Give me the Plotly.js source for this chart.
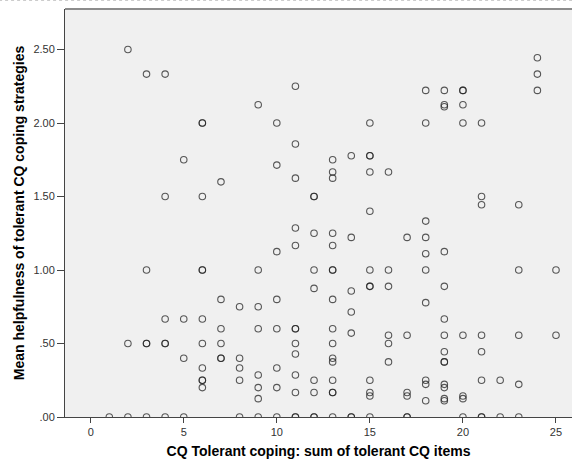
<!DOCTYPE html>
<html>
<head>
<meta charset="utf-8">
<script src="https://cdn.plot.ly/plotly-3.0.1.min.js"></script>
<style>
html,body{margin:0;padding:0;background:#fff;}
#chart{width:572px;height:461px;}
</style>
</head>
<body>
<div id="chart"></div>
<script>
// CQ Tolerant coping sum (x) and mean helpfulness (y), one entry per respondent
const tolerantSum = [
  1,
  2,2,2,
  3,3,3,3,3,
  4,4,4,4,4,4,
  5,5,5,5,
  6,6,6,6,6,6,6,6,6,6,6,
  7,7,7,7,7,7,
  8,8,8,8,8,
  9,9,9,9,9,9,9,9,
  10,10,10,10,10,10,10,10,
  11,11,11,11,11,11,11,11,11,11,11,11,11,
  12,12,12,12,12,12,12,12,12,
  13,13,13,13,13,13,13,13,13,13,13,13,13,13,13,13,
  14,14,14,14,14,14,14,
  15,15,15,15,15,15,15,15,15,15,15,15,
  16,16,16,16,16,16,
  17,17,17,17,17,17,
  18,18,18,18,18,18,18,18,18,18,
  19,19,19,19,19,19,19,19,19,19,19,19,19,19,
  20,20,20,20,20,20,20,20,
  21,21,21,21,21,21,21,21,
  22,22,
  23,23,23,23,23,
  24,24,24,
  25,25
];
const meanHelpfulness = [
  0,
  2.5,0.5,0,
  2.333,1.0,0.5,0.5,0,
  2.333,1.5,0.667,0.5,0.5,0,
  1.75,0.667,0.4,0,
  2.0,2.0,1.5,1.0,1.0,0.667,0.5,0.333,0.25,0.25,0.2,
  1.6,0.8,0.6,0.5,0.4,0.4,
  0.75,0.4,0.333,0.25,0,
  2.125,1.0,0.75,0.6,0.286,0.2,0.125,0,
  2.0,1.714,1.125,0.8,0.6,0.333,0.2,0,
  2.25,1.857,1.625,1.286,1.167,0.6,0.6,0.5,0.429,0.286,0.167,0,0,
  1.5,1.5,1.25,1.0,0.875,0.25,0.167,0,0,
  1.75,1.667,1.625,1.25,1.167,1.0,1.0,0.8,0.6,0.5,0.4,0.375,0.25,0.167,0.167,0,
  1.778,1.222,0.857,0.714,0.571,0,0,
  2.0,1.778,1.778,1.667,1.4,1.0,0.889,0.889,0.25,0.167,0.143,0,
  1.667,1.0,0.889,0.556,0.5,0.375,
  1.222,0.556,0.167,0.143,0,0,
  2.222,2.0,1.333,1.222,1.111,1.0,0.778,0.25,0.222,0.111,
  2.222,2.125,2.111,1.125,0.889,0.667,0.556,0.444,0.375,0.375,0.222,0.2,0.125,0.111,
  2.222,2.222,2.125,2.0,0.556,0.143,0.125,0,
  2.0,1.5,1.444,0.556,0.444,0.25,0,0,
  0.25,0,
  1.444,1.0,0.556,0.222,0,
  2.444,2.333,2.222,
  1.0,0.556
];
// Axis ticks
const xTickVals = [0,5,10,15,20,25];
const xTickText = ["0","5","10","15","20","25"];
const yTickVals = [0,0.5,1.0,1.5,2.0,2.5];
const yTickText = [".00",".50","1.00","1.50","2.00","2.50"];

const fontFam = '"Liberation Sans", Arial, sans-serif';

const trace = {
  x: tolerantSum,
  y: meanHelpfulness,
  type: 'scatter',
  mode: 'markers',
  cliponaxis: true,
  hoverinfo: 'x+y',
  marker: {
    symbol: 'circle-open',
    size: 6.5,
    color: 'rgba(35,35,35,0.75)',
    line: {width: 1.1, color: 'rgba(35,35,35,0.75)'}
  }
};

const layout = {
  width: 572,
  height: 461,
  margin: {l: 65, r: 0, t: 9, b: 44, pad: 0},
  paper_bgcolor: '#ffffff',
  plot_bgcolor: '#f0f0f0',
  showlegend: false,
  font: {family: fontFam, size: 11, color: '#333333'},
  xaxis: {
    range: [-1.38, 25.86],
    tickvals: xTickVals,
    ticktext: xTickText,
    ticks: 'outside',
    ticklen: 5,
    tickwidth: 1,
    tickcolor: '#444444',
    showgrid: false,
    zeroline: false,
    showline: true,
    linecolor: '#444444',
    linewidth: 1,
    tickfont: {family: fontFam, size: 11, color: '#333333'},
    title: {
      text: 'CQ Tolerant coping: sum of tolerant CQ items',
      font: {family: fontFam, size: 14, color: '#000000', weight: 'bold'},
      standoff: 8
    }
  },
  yaxis: {
    range: [0, 2.776],
    tickvals: yTickVals,
    ticktext: yTickText,
    ticks: 'outside',
    ticklen: 7,
    tickwidth: 1,
    tickcolor: '#444444',
    showgrid: false,
    zeroline: false,
    showline: true,
    linecolor: '#444444',
    linewidth: 1,
    tickfont: {family: fontFam, size: 11, color: '#333333'},
    title: {
      text: 'Mean helpfulness of tolerant CQ coping strategies',
      font: {family: fontFam, size: 14, color: '#000000', weight: 'bold'},
      standoff: 5
    }
  },
  shapes: [
    {type: 'line', xref: 'paper', yref: 'paper', x0: 0, x1: 1, y0: 1, y1: 1,
     line: {color: '#8c8c8c', width: 2}},
    {type: 'line', xref: 'paper', yref: 'paper', x0: -0.13, x1: 1, y0: 1.021, y1: 1.021,
     line: {color: '#c8c8c8', width: 1, dash: 'dot'}}
  ]
};

Plotly.newPlot('chart', [trace], layout, {displayModeBar: false, staticPlot: true});
</script>
</body>
</html>
